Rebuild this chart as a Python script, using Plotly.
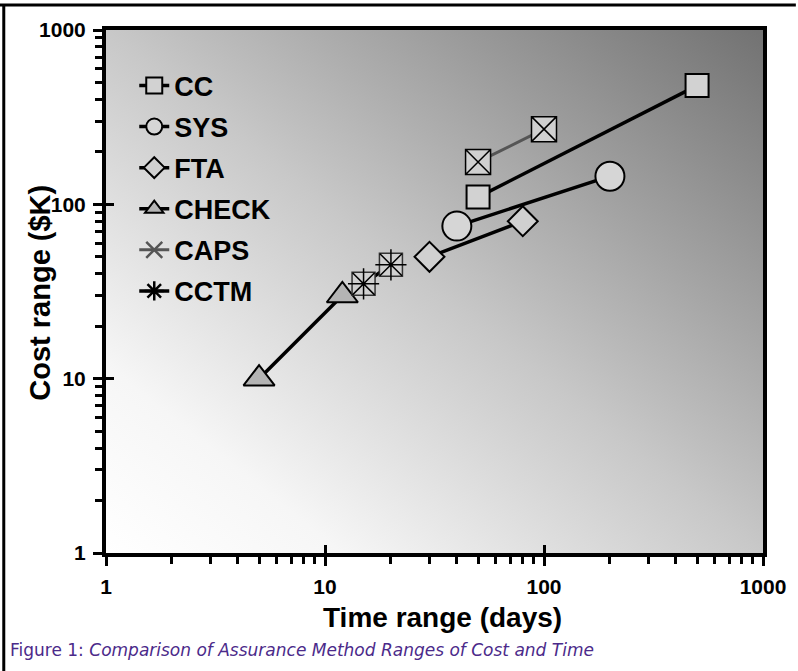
import base64
import plotly.graph_objects as go

# ---- data ----
methods = ["CC", "SYS", "FTA", "CHECK", "CAPS", "CCTM"]
cc_time = [50, 500]
cc_cost = [110, 480]
sys_time = [40, 200]
sys_cost = [75, 145]
fta_time = [30, 80]
fta_cost = [50, 80]
check_time = [5, 12]
check_cost = [10, 30]
caps_time = [50, 100]
caps_cost = [175, 270]
cctm_time = [15, 20]
cctm_cost = [35, 45]

x_tick_vals = [1, 10, 100, 1000]
x_tick_text = ["1", "10", "100", "1000"]
y_tick_vals = [1, 10, 100, 1000]
y_tick_text = ["1", "10", "100", "1000"]
minor_vals = [m * 10 ** e for e in range(3) for m in range(2, 10)]

x_title = "Time range (days)"
y_title = "Cost range ($K)"
caption = "Figure 1: <i>Comparison of Assurance Method Ranges of Cost and Time</i>"

FONT = "Liberation Sans"
BOLD = dict(family=FONT, weight="bold", color="black")

# ---- figure ----
fig = go.Figure()

def series(name, xs, ys, symbol, size, fill, group, showlegend=True, mode="lines+markers",
           lcolor="black", lwidth=3.5, mlcolor="black", mlwidth=2, xaxis="x", yaxis="y"):
    fig.add_trace(go.Scatter(
        x=xs, y=ys, name=name, mode=mode, legendgroup=group, showlegend=showlegend,
        xaxis=xaxis, yaxis=yaxis,
        line=dict(color=lcolor, width=lwidth),
        marker=dict(symbol=symbol, size=size, color=fill,
                    line=dict(color=mlcolor, width=mlwidth)),
    ))

series(methods[0], cc_time, cc_cost, "square", 23, "#d2d2d2", "g1")
series(methods[1], sys_time, sys_cost, "circle", 29, "#d6d6d6", "g2")
series(methods[2], fta_time, fta_cost, "diamond", 23, "#d0d0d0", "g3")
series(methods[3], check_time, check_cost, "triangle-up", 27, "#b4b4b4", "g4")
# CAPS: legend trace (gray line + x), squares on top
series(methods[4], caps_time, caps_cost, "x-thin-open", 18, "#555555", "g5",
       lcolor="#555555", lwidth=3, mlcolor="#555555", mlwidth=2.5)
series(methods[4], caps_time, caps_cost, "square-x", 25, "#d0d0d0", "g5",
       showlegend=False, mode="markers", mlwidth=1.5)
# CCTM: legend trace, squares, then asterisks on top (on the overlay axes)
series(methods[5], cctm_time, cctm_cost, "asterisk-open", 18, "black", "g6",
       mlwidth=2.5)
series(methods[5], cctm_time, cctm_cost, "square", 23, "#d0d0d0", "g6",
       showlegend=False, mode="markers", mlcolor="#333333", mlwidth=1.5)
series(methods[5], cctm_time, cctm_cost, "asterisk-open", 26, "black", "g6",
       showlegend=False, mode="markers", mlwidth=1.5, xaxis="x2", yaxis="y2")

# gradient background
svg = ('<svg xmlns="http://www.w3.org/2000/svg" width="200" height="200" '
       'preserveAspectRatio="none"><defs><linearGradient id="g" x1="0" y1="1" x2="1" y2="0">'
       '<stop offset="0" stop-color="#ffffff"/><stop offset="0.18" stop-color="#f6f6f6"/>'
       '<stop offset="0.5" stop-color="#c8c8c8"/><stop offset="1" stop-color="#727272"/>'
       '</linearGradient></defs><rect width="200" height="200" fill="url(#g)"/></svg>')
src = "data:image/svg+xml;base64," + base64.b64encode(svg.encode()).decode()

axis_common = dict(type="log", showgrid=False, zeroline=False)

fig.update_layout(
    width=798, height=671,
    margin=dict(l=106, r=30, t=30, b=118, pad=0),
    paper_bgcolor="white",
    plot_bgcolor="rgba(0,0,0,0)",
    images=[dict(source=src, xref="paper", yref="paper", x=0, y=1, sizex=1, sizey=1,
                 sizing="stretch", layer="below", xanchor="left", yanchor="top")],
    xaxis=dict(**axis_common, range=[0, 3], showline=True, linecolor="black", linewidth=4,
               mirror=True, ticks="outside", ticklen=9, tickwidth=3, tickcolor="black",
               tickvals=x_tick_vals, ticktext=x_tick_text,
               tickfont=dict(size=21, **BOLD), ticklabelstandoff=3,
               minor=dict(tickvals=minor_vals, ticks="outside", ticklen=7, tickwidth=3,
                          tickcolor="black")),
    yaxis=dict(**axis_common, range=[0, 3], showline=True, linecolor="black", linewidth=4,
               mirror=True, ticks="outside", ticklen=9, tickwidth=3, tickcolor="black",
               tickvals=y_tick_vals, ticktext=y_tick_text,
               tickfont=dict(size=21, **BOLD), ticklabelstandoff=3,
               minor=dict(tickvals=minor_vals, ticks="outside", ticklen=7, tickwidth=3,
                          tickcolor="black")),
    xaxis2=dict(**axis_common, range=[0, 3], overlaying="x", anchor="y", side="bottom",
                showline=False, ticks="inside", ticklen=8, tickwidth=3, tickcolor="black",
                tickvals=x_tick_vals, showticklabels=False),
    yaxis2=dict(**axis_common, range=[0, 3], overlaying="y", anchor="x", side="left",
                showline=False, ticks="inside", ticklen=8, tickwidth=3, tickcolor="black",
                tickvals=y_tick_vals, showticklabels=False),
    legend=dict(x=0.043, y=0.94, xanchor="left", yanchor="top",
                bgcolor="rgba(0,0,0,0)", borderwidth=0,
                font=dict(size=27, **BOLD), traceorder="grouped", tracegroupgap=3,
                itemsizing="trace"),
    annotations=[
        dict(text=x_title, xref="paper", yref="paper", x=0.512, y=-0.123,
             xanchor="center", yanchor="middle", showarrow=False,
             font=dict(size=28, **BOLD)),
        dict(text=y_title, xref="paper", yref="paper", x=-0.101, y=0.497,
             xanchor="center", yanchor="middle", showarrow=False, textangle=-90,
             font=dict(size=29, **BOLD)),
        dict(text=caption, xref="paper", yref="paper", x=-0.149, y=-0.1855,
             xanchor="left", yanchor="middle", showarrow=False,
             font=dict(size=17, family="DejaVu Sans", color="#4b2a8a")),
    ],
    shapes=[
        dict(type="line", xref="paper", yref="paper", x0=-0.165, x1=1.05, y0=1.0478,
             y1=1.0478, line=dict(color="black", width=3)),
        dict(type="line", xref="paper", yref="paper", x0=-0.1556, x1=-0.1556, y0=1.0478,
             y1=-0.25, line=dict(color="black", width=3)),
    ],
    showlegend=True,
)

fig.write_html("out.html", config={"displayModeBar": False},
               post_script="document.body.style.margin='0px';")
